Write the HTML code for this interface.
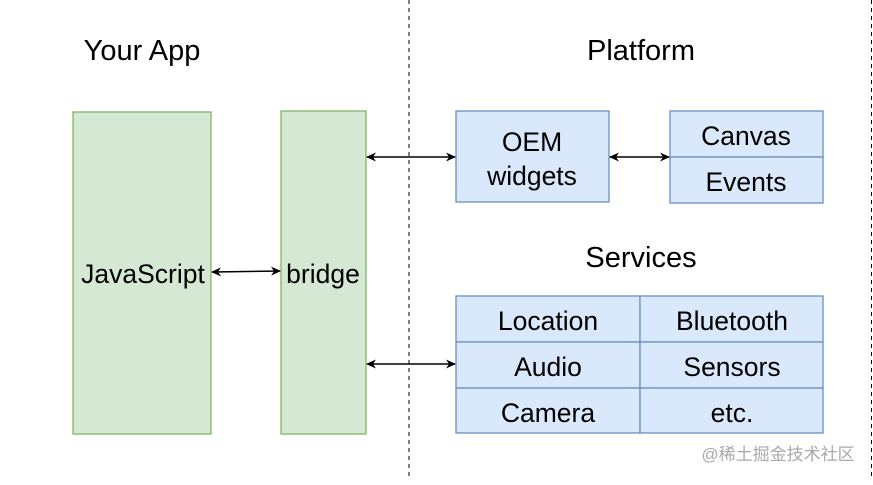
<!DOCTYPE html>
<html><head><style>
body{margin:0;width:873px;height:480px;background:#fff;overflow:hidden;font-family:"Liberation Sans",sans-serif}
</style></head><body>
<svg width="873" height="480" xmlns="http://www.w3.org/2000/svg" font-family="Liberation Sans, sans-serif">
<defs><marker id="a" viewBox="0 0 10 10" refX="9" refY="5" markerWidth="10" markerHeight="10" markerUnits="userSpaceOnUse" orient="auto-start-reverse"><path d="M0,0.5 L10,5 L0,9.5 L3,5z" fill="#000"/></marker></defs>
<line x1="409" y1="0" x2="409" y2="480" stroke="#000" stroke-dasharray="4,4"/>
<line x1="871.5" y1="0" x2="871.5" y2="480" stroke="#000" stroke-dasharray="4,4"/>
<text x="142" y="60" font-size="29" text-anchor="middle">Your App</text>
<text x="641" y="60" font-size="29" text-anchor="middle">Platform</text>
<text x="641" y="267" font-size="29" text-anchor="middle">Services</text>
<g fill="#d5e8d4" stroke="#82b366" stroke-width="1.3">
<rect x="73" y="112" width="138" height="322"/><rect x="281" y="111" width="85" height="323"/></g>
<g fill="#dae8fc" stroke="#6c8ebf" stroke-width="1.3">
<rect x="456" y="111" width="153" height="91"/>
<rect x="670" y="111" width="153" height="46"/><rect x="670" y="157" width="153" height="46"/>
<rect x="456" y="296" width="184" height="46"/><rect x="640" y="296" width="183" height="46"/>
<rect x="456" y="342" width="184" height="46"/><rect x="640" y="342" width="183" height="46"/>
<rect x="456" y="388" width="184" height="45"/><rect x="640" y="388" width="183" height="45"/>
</g>
<g font-size="26.5" text-anchor="middle" fill="#000">
<text x="143" y="283">JavaScript</text><text x="323" y="283">bridge</text>
<text x="532" y="151">OEM</text><text x="532" y="185">widgets</text>
<text x="746" y="145">Canvas</text><text x="746" y="191">Events</text>
<text x="548" y="330">Location</text><text x="732" y="330">Bluetooth</text>
<text x="548" y="376">Audio</text><text x="732" y="376">Sensors</text>
<text x="548" y="422">Camera</text><text x="732" y="422">etc.</text>
</g>
<g stroke="#000" stroke-width="1.5" marker-start="url(#a)" marker-end="url(#a)">
<line x1="212" y1="272" x2="280" y2="271"/>
<line x1="367" y1="157" x2="455" y2="157"/>
<line x1="610" y1="157" x2="669" y2="157"/>
<line x1="367" y1="364" x2="455" y2="364"/>
</g>
<text x="778" y="460" font-size="17" fill="#aaa" text-anchor="middle" font-family="Liberation Sans, Noto Sans CJK SC, sans-serif">@稀土掘金技术社区</text>
</svg>
</body></html>
